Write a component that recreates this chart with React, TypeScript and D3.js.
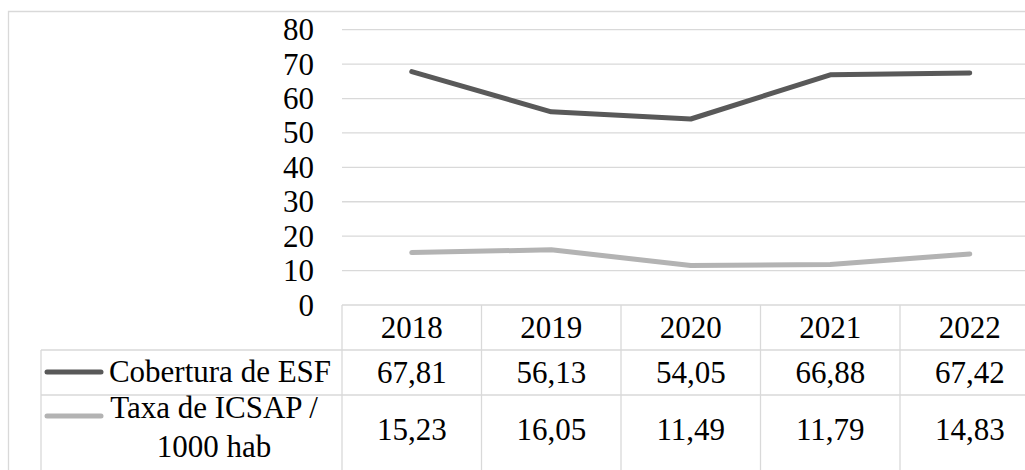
import React from 'react';
import * as d3 from 'd3';

const years = ['2018', '2019', '2020', '2021', '2022'];
const cobertura = [67.81, 56.13, 54.05, 66.88, 67.42];
const icsap = [15.23, 16.05, 11.49, 11.79, 14.83];
const yTicks = [0, 10, 20, 30, 40, 50, 60, 70, 80];

const seriesNames = [['Cobertura de ESF'], ['Taxa de ICSAP /', '1000 hab']];
const seriesColors = ['#595959', '#b3b3b3'];

const W = 1025;
const H = 470;
const FONT = '"Liberation Serif", "Times New Roman", serif';
const GRID = '#d9d9d9';

const plotLeft = 342;
const plotRight = 1039.5;
const plotTop = 29.7;
const plotBottom = 305;
const labelLeft = 41;
const headerBottom = 350;
const row1Bottom = 395;

const fmt = (v: number) => v.toFixed(2).replace('.', ',');

const App: React.FC = () => {
  const x = d3.scaleBand<string>().domain(years).range([plotLeft, plotRight]);
  const y = d3.scaleLinear().domain([0, 80]).range([plotBottom, plotTop]);
  const cx = (yr: string) => (x(yr) as number) + x.bandwidth() / 2;

  const line = d3
    .line<number>()
    .x((_, i) => cx(years[i]))
    .y((d) => y(d));

  const series = [cobertura, icsap];
  const rows = [
    { top: headerBottom, bottom: row1Bottom },
    { top: row1Bottom, bottom: H + 20 },
  ];
  const rowCenter = (i: number) => (i === 0 ? (rows[0].top + rows[0].bottom) / 2 : 429);

  return (
    <svg
      width={W}
      height={H}
      style={{ position: 'absolute', left: 0, top: 0, background: '#fff' }}
      fontFamily={FONT}
    >
      {/* outer border */}
      <path d={`M8.5,${H + 5} V11.5 H${W + 5}`} fill="none" stroke={GRID} strokeWidth={1.3} />

      {/* gridlines */}
      {yTicks.map((t) => (
        <line key={t} x1={plotLeft} x2={W} y1={y(t)} y2={y(t)} stroke={GRID} strokeWidth={1.3} />
      ))}

      {/* y tick labels */}
      {yTicks.map((t) => (
        <text
          key={'l' + t}
          x={314}
          y={y(t)}
          textAnchor="end"
          dominantBaseline="central"
          fontSize={31}
          fill="#000"
        >
          {t}
        </text>
      ))}

      {/* table grid */}
      <line x1={labelLeft} x2={W} y1={headerBottom} y2={headerBottom} stroke={GRID} strokeWidth={1.3} />
      <line x1={labelLeft} x2={W} y1={row1Bottom} y2={row1Bottom} stroke={GRID} strokeWidth={1.3} />
      <line x1={labelLeft} x2={labelLeft} y1={headerBottom} y2={H + 5} stroke={GRID} strokeWidth={1.3} />
      {years.map((yr) => (
        <line
          key={'v' + yr}
          x1={x(yr) as number}
          x2={x(yr) as number}
          y1={plotBottom}
          y2={H + 5}
          stroke={GRID}
          strokeWidth={1.3}
        />
      ))}

      {/* header years */}
      {years.map((yr) => (
        <text
          key={'h' + yr}
          x={cx(yr)}
          y={(plotBottom + headerBottom) / 2}
          textAnchor="middle"
          dominantBaseline="central"
          fontSize={31}
        >
          {yr}
        </text>
      ))}

      {/* rows */}
      {series.map((vals, si) => (
        <g key={'row' + si}>
          <line
            x1={47}
            x2={101}
            y1={si === 0 ? 372 : 416}
            y2={si === 0 ? 372 : 416}
            stroke={seriesColors[si]}
            strokeWidth={5}
            strokeLinecap="round"
          />
          {seriesNames[si].map((s, li) => (
            <text
              key={s}
              x={si === 0 ? 220 : 214}
              y={si === 0 ? 382 : 418 + li * 39}
              textAnchor="middle"
              fontSize={31}
            >
              {s}
            </text>
          ))}
          {vals.map((v, i) => (
            <text
              key={'c' + i}
              x={cx(years[i])}
              y={rowCenter(si)}
              textAnchor="middle"
              dominantBaseline="central"
              fontSize={31}
            >
              {fmt(v)}
            </text>
          ))}
        </g>
      ))}

      {/* lines */}
      {series.map((vals, si) => (
        <path
          key={'p' + si}
          d={line(vals) as string}
          fill="none"
          stroke={seriesColors[si]}
          strokeWidth={5}
          strokeLinecap="round"
          strokeLinejoin="round"
        />
      ))}
    </svg>
  );
};

export default App;
